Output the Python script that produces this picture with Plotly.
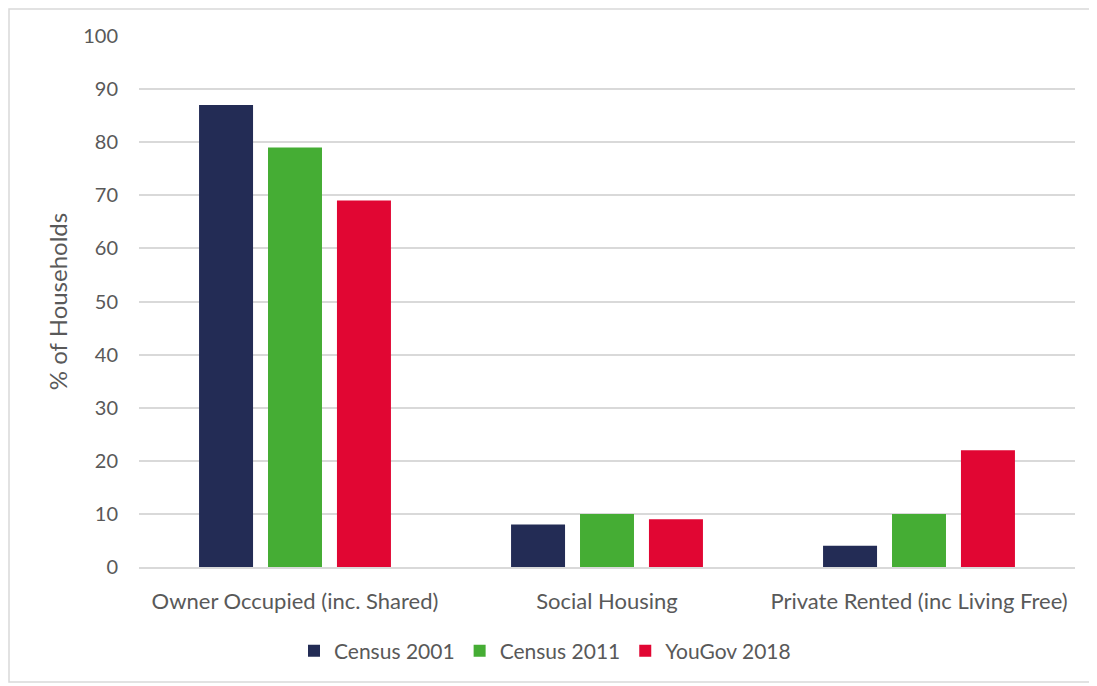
import plotly.graph_objects as go

categories = ["Owner Occupied (inc. Shared)", "Social Housing", "Private Rented (inc Living Free)"]
census_2001 = [87, 8, 4]
census_2011 = [79, 10, 10]
yougov_2018 = [69, 9, 22]
series_names = ["Census 2001", "Census 2011", "YouGov 2018"]
colors = ["#232C55", "#45AD34", "#E10633"]

fig = go.Figure()
for name, vals, col in zip(series_names, [census_2001, census_2011, yougov_2018], colors):
    fig.add_trace(go.Bar(x=categories, y=vals, name=name, marker=dict(color=col, line=dict(width=0))))

OFF = 8  # page body margin
W, H = 1097 - OFF, 686 - OFF
L, T = 139 - OFF, 36 - OFF
pw, ph = 936, 531
R, B = W - L - pw, H - T - ph

def px(x):
    return (x - OFF - L) / pw

def py(y):
    return 1 - (y - OFF - T) / ph

fig.update_layout(
    width=W, height=H,
    margin=dict(l=L, r=R, t=T, b=B),
    paper_bgcolor="white", plot_bgcolor="white",
    barmode="group", bargap=0.337, bargroupgap=0.217,
    font=dict(family="Lato, Carlito, sans-serif", size=21, color="#595959"),
    showlegend=True,
    legend=dict(orientation="h", x=px(545), xanchor="center",
                y=py(651), yanchor="middle",
                font=dict(size=21, color="#595959"), itemwidth=30,
                traceorder="normal"),
    xaxis=dict(showgrid=False, showline=True, linecolor="#d9d9d9", linewidth=1.5,
               ticks="", ticklabelstandoff=14, tickfont=dict(size=22)),
    yaxis=dict(range=[0, 100], dtick=10, showgrid=True, gridcolor="#d9d9d9", gridwidth=1.5,
               zeroline=False, showline=False, ticks="", ticklabelstandoff=20,
               tickfont=dict(size=20),
               title=dict(text="% of Households", font=dict(size=24, color="#595959"), standoff=8)),
    shapes=[dict(type="rect", xref="paper", yref="paper",
                 x0=px(9), x1=px(1090),
                 y0=py(682), y1=py(9),
                 line=dict(color="#d9d9d9", width=1.5), fillcolor="rgba(0,0,0,0)", layer="below")],
)

fig.write_html("out.html")
